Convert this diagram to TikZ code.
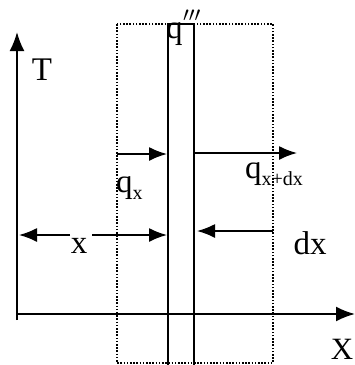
\documentclass[tikz,border=0pt]{standalone}
\usepackage{fontspec}
\setmainfont{Liberation Serif}
\usetikzlibrary{arrows.meta}
\tikzset{
  lbl/.style={inner sep=0pt, font=\fontsize{33}{36}\selectfont},
  sublbl/.style={inner sep=0pt, font=\fontsize{20}{22}\selectfont},
  axis/.style={line width=2pt, -{Latex[length=19pt,width=15pt]}},
  slab/.style={line width=2pt},
  frame/.style={line width=2pt, dash pattern=on 1.6pt off 1.6pt},
  flux/.style={line width=1.6pt, -{Latex[length=18pt,width=14pt]}},
}
\begin{document}
\begin{tikzpicture}[x=1pt,y=-1pt]
\useasboundingbox (0,0) rectangle (355,365);
% dotted control volume
\draw[frame] (117,24) rectangle (273,363);
% slab
\coordinate (sl0) at (168,366);
\coordinate (sl1) at (168,24);
\coordinate (sr1) at (194,24);
\coordinate (sr0) at (194,366);
\draw[slab] (sl0) -- (sl1) -- (sr1) -- (sr0);
% axes
\coordinate (o) at (17,314);
\coordinate (ybot) at (17,320);
\coordinate (ytop) at (17,32);
\coordinate (xend) at (355,314);
\draw[axis] (ybot) -- (ytop);
\draw[axis] (o) -- (xend);
\node[lbl] (T) at (42,70) {T};
\node[lbl, font=\fontsize{31}{34}\selectfont] (X) at (342,349) {X};
% fluxes
\coordinate (qxa) at (117,154);
\coordinate (qxb) at (167,154);
\draw[flux] (qxa) -- (qxb);
\coordinate (qda) at (195,153);
\coordinate (qdb) at (297,153);
\draw[flux] (qda) -- (qdb);
\node[lbl, anchor=base west] (qx) at (116,192) {q\raisebox{-7pt}{\fontsize{20}{22}\selectfont x}};
\node[lbl, anchor=base west] (qdx) at (245,178) {q\raisebox{-7pt}{\fontsize{20}{22}\selectfont x+dx}};
\node[lbl, anchor=base west] (qgen) at (166,38) {q};
\node[sublbl, anchor=base west] (qgenp) at (183,21) {$\prime\prime\prime$};
% x dimension
\coordinate (xa) at (19,235);
\coordinate (xb) at (70,235);
\coordinate (xc) at (92,235);
\coordinate (xd) at (167,235);
\draw[flux] (xb) -- (xa);
\draw[flux] (xc) -- (xd);
\node[lbl] (xl) at (79,246) {x};
% dx dimension
\coordinate (dxa) at (273,231);
\coordinate (dxb) at (197,231);
\draw[flux] (dxa) -- (dxb);
\node[lbl] (dxl) at (310,243) {dx};
\end{tikzpicture}
\end{document}
